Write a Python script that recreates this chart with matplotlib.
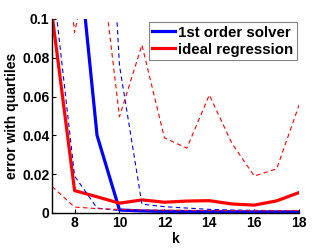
import matplotlib
matplotlib.use("Agg")
import matplotlib.pyplot as plt

k = [7, 8, 9, 10, 11, 12, 13, 14, 15, 16, 17, 18]

solver_median = [0.30, 0.155, 0.040, 0.0015, 0.0010, 0.0008, 0.0007, 0.0006, 0.0006, 0.0005, 0.0005, 0.0005]
solver_lower = [0.122, 0.019, 0.0025, 0.0012, 0.0008, 0.0006, 0.0005, 0.0004, 0.0004, 0.0004, 0.0003, 0.0003]
solver_upper = [0.35, 0.30, 0.28, 0.076, 0.0045, 0.0032, 0.0025, 0.0018, 0.0015, 0.0013, 0.0012, 0.0012]

ideal_median = [0.102, 0.0115, 0.0083, 0.0050, 0.0067, 0.0055, 0.0061, 0.0063, 0.0046, 0.0040, 0.0062, 0.0105]
ideal_lower = [0.0136, 0.0030, 0.0022, 0.0018, 0.0015, 0.0014, 0.0013, 0.0012, 0.0012, 0.0011, 0.0011, 0.0012]
ideal_upper = [0.20, 0.093, 0.147, 0.0496, 0.0866, 0.0387, 0.0334, 0.0608, 0.036, 0.019, 0.0227, 0.0557]

labels = ["1st order solver", "ideal regression"]
xticks = [8, 10, 12, 14, 16, 18]
yticks = [0, 0.02, 0.04, 0.06, 0.08, 0.1]
yticklabels = ["0", "0.02", "0.04", "0.06", "0.08", "0.1"]

plt.rcParams['font.family'] = ['Liberation Sans', 'DejaVu Sans']
plt.rcParams['font.weight'] = 'bold'

fig = plt.figure(figsize=(3.32, 2.49), dpi=100)
ax = fig.add_axes([0.157, 0.145, 0.744, 0.779])

blue = (0, 0, 1)
red = (1, 0, 0)

ax.plot(k, solver_median, color=blue, lw=2.3, label=labels[0])
ax.plot(k, ideal_median, color=red, lw=2.3, label=labels[1])
ax.plot(k, solver_lower, color=blue, lw=0.8, ls=(0, (4, 3)))
ax.plot(k, solver_upper, color=blue, lw=0.8, ls=(0, (4, 3)))
ax.plot(k, ideal_lower, color=red, lw=0.8, ls=(0, (4, 3)))
ax.plot(k, ideal_upper, color=red, lw=0.8, ls=(0, (4, 3)))

ax.set_xlim(7, 18)
ax.set_ylim(0, 0.1)
ax.set_xticks(xticks)
ax.set_yticks(yticks)
ax.set_yticklabels(yticklabels)
ax.tick_params(direction='in', length=3, width=0.8, labelsize=10, pad=2)
for lab in ax.get_xticklabels() + ax.get_yticklabels():
    lab.set_fontweight('bold')
ax.spines['top'].set_visible(False)
ax.spines['right'].set_visible(False)
for s in ['left', 'bottom']:
    ax.spines[s].set_linewidth(1.0)

ax.set_xlabel("k", fontsize=10, fontweight='bold', labelpad=1.5)
ax.set_ylabel("error with quartiles", fontsize=10, fontweight='bold', labelpad=2)

leg = ax.legend(loc='upper right', bbox_to_anchor=(0.99, 0.985), fontsize=10.8,
                frameon=True, fancybox=False, handlelength=1.5, handletextpad=0.2,
                borderpad=0.25, labelspacing=0.2, borderaxespad=0)
leg.get_frame().set_edgecolor('0.4')
leg.get_frame().set_linewidth(0.8)
for t in leg.get_texts():
    t.set_fontweight('bold')

fig.savefig("out.png", dpi=100)
